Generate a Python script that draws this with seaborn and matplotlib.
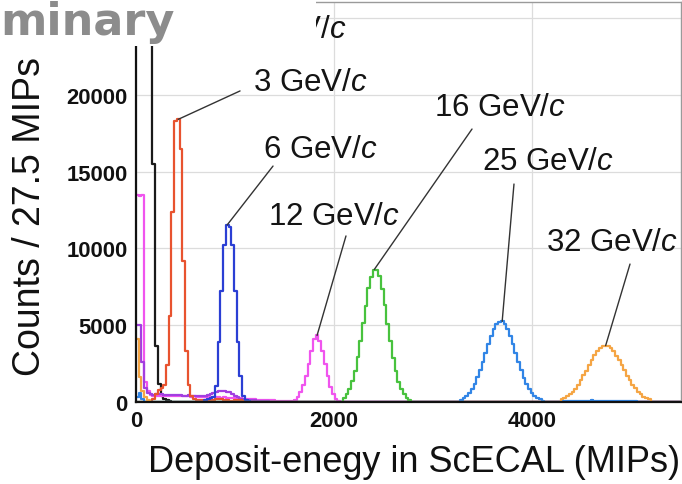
import numpy as np
import pandas as pd
import matplotlib
matplotlib.use('Agg')
import matplotlib.pyplot as plt
from matplotlib.patches import Rectangle
from matplotlib.ticker import MultipleLocator, FuncFormatter
import seaborn as sns

# binning of the histograms: 27.5 MIPs per bin, 0 - 5500 MIPs
bin_width = 27.5
n_bins = 200

# counts per bin, as (first bin, values)
e1_start = 0
e1_counts = [30000, 32000, 36000, 40000, 42000, 34000, 15500, 3650, 1170, 400, 200, 100, 60]

e3_start = 6
e3_counts = [200, 500, 800, 900, 1100, 2400, 5600, 12400, 18300, 18400, 16500, 9200, 3300, 1100,
             400, 200, 150, 120, 140, 110, 100, 120, 150, 180, 200, 170, 130, 100, 80, 90, 120,
             150, 110, 70, 50]

e6_start = 25
e6_counts = [150, 200, 250, 300, 1050, 3930, 7200, 10200, 11530, 11400, 10200, 7200, 3930, 1700,
             400, 150, 80]

e12_low_start = 0
e12_low = [13500, 13400, 13500, 1300, 700, 450, 420, 400, 410, 390,
           400, 380, 400, 420, 390, 380, 400, 370, 360, 380,
           350, 360, 340, 350, 330, 340, 320, 330, 310, 300,
           320, 290, 300, 280, 270, 260, 250, 240, 230, 220,
           200, 190, 180, 170, 160, 150, 140, 130, 120, 110,
           100, 90, 80, 70, 60, 60, 50, 50]
e12_start = 58
e12_counts = [100, 300, 650, 1100, 1700, 2500, 3300, 4100, 4330, 4000, 3300, 2500, 1700, 1000,
              500, 200, 80]

noise_start = 0
noise_counts = [5000, 5000, 2600, 900, 600, 500, 480, 520, 550, 500, 480, 470, 450, 460, 440, 430,
                450, 420, 410, 430, 400, 410, 420, 400, 390, 420, 450, 500, 580, 650, 700, 720,
                700, 680, 620, 520, 400, 300, 220, 180, 150, 130, 110, 100, 90, 80, 60, 50, 40, 30]

e16_start = 76
e16_counts = [280, 510, 830, 1350, 2000, 2920, 3950, 5150, 6280, 7400, 8150, 8620, 8580, 8200,
              7330, 6320, 5090, 3980, 2880, 2040, 1320, 850, 490, 290, 140]

e25_low_start = 0
e25_low = [300, 600, 200]
e25_start = 119
e25_counts = [160, 265, 395, 590, 860, 1180, 1600, 2070, 2620, 3180, 3770, 4290, 4750, 5060, 5230,
              5250, 5070, 4740, 4310, 3760, 3200, 2610, 2090, 1590, 1190, 845, 595, 405, 255, 170, 90]
e25_tail_start = 157
e25_tail = [70, 80, 90, 85, 80, 95, 90, 85, 80, 90, 100, 95, 85, 80, 90, 85, 80, 75, 85, 80, 90,
            85, 80, 70, 75, 70, 60]

e32_low_start = 0
e32_low = [4100, 1600, 700, 300, 150]
e32_start = 156
e32_counts = [170, 250, 365, 490, 680, 870, 1130, 1400, 1730, 2050, 2410, 2720, 3050, 3290, 3510,
              3620, 3670, 3640, 3490, 3310, 3020, 2740, 2390, 2060, 1710, 1410, 1110, 880, 665,
              500, 355, 260, 170]

labels = ['1 GeV/$c$', '3 GeV/$c$', '6 GeV/$c$', '12 GeV/$c$', '16 GeV/$c$', '25 GeV/$c$', '32 GeV/$c$']


def full_hist(*segments):
    h = np.zeros(n_bins)
    for start, vals in segments:
        h[start:start + len(vals)] = vals
    return h


edges = np.arange(n_bins + 1) * bin_width
centers = edges[:-1] + bin_width / 2

h1 = full_hist((e1_start, e1_counts))
h3 = full_hist((e3_start, e3_counts))
h6 = full_hist((e6_start, e6_counts))
h12 = full_hist((e12_low_start, e12_low), (e12_start, e12_counts))
hnoise = full_hist((noise_start, noise_counts))
h16 = full_hist((e16_start, e16_counts))
h25 = full_hist((e25_low_start, e25_low), (e25_start, e25_counts), (e25_tail_start, e25_tail))
h32 = full_hist((e32_low_start, e32_low), (e32_start, e32_counts))

sns.set_style('white')
plt.rcParams['font.family'] = ['Liberation Sans', 'DejaVu Sans']
plt.rcParams['mathtext.fontset'] = 'custom'
plt.rcParams['mathtext.rm'] = 'Liberation Sans'
plt.rcParams['mathtext.it'] = 'Liberation Sans:italic'

fig = plt.figure(figsize=(6.82, 4.85), dpi=100)
ax = fig.add_axes([136 / 682, 82 / 485, 544.5 / 682, 400 / 485])

# drawing order matters: the last one sits on top
hists = [
    (h1, '#1a1a1a'),
    (h12, '#f054ee'),
    (hnoise, '#a23ee0'),
    (h3, '#e8532f'),
    (h6, '#2b3fd4'),
    (h16, '#48c23e'),
    (h25, '#3185e6'),
    (h32, '#f5a544'),
]
for h, col in hists:
    df = pd.DataFrame({'mips': centers, 'counts': h})
    sns.histplot(data=df, x='mips', weights='counts', binwidth=bin_width,
                 binrange=(0, n_bins * bin_width), element='step', fill=False,
                 color=col, linewidth=1.6, ax=ax)

ymax = 26040
ax.set_xlim(0, 5500)
ax.set_ylim(0, ymax)

# leader lines: from near the label to the top of each peak
peak_segments = [(e1_start, e1_counts), (e3_start, e3_counts), (e6_start, e6_counts),
                 (e12_start, e12_counts), (e16_start, e16_counts), (e25_start, e25_counts),
                 (e32_start, e32_counts)]
label_pos = [(1545, 24280), (1758, 20830), (1864, 16470), (2000, 12110),
             (3677, 19200), (4157, 15690), (4808, 10420)]
line_start = [(1150, 24280), (1051, 20250), (1384, 15360), (2121, 10810),
              (3394, 17770), (3818, 14190), (4990, 8980)]

for lab, (start, vals), pos, ls in zip(labels, peak_segments, label_pos, line_start):
    k = int(np.argmax(vals))
    peak_x = centers[start + k]
    peak_y = min(vals[k], ymax - 100)
    ax.annotate('', xy=(peak_x, peak_y), xytext=ls,
                arrowprops=dict(arrowstyle='-', color='#333333', lw=1.0,
                                shrinkA=0, shrinkB=0))
    ax.text(pos[0], pos[1], lab, ha='center', va='center', fontsize=22.5, color='#141414')

ax.xaxis.set_major_locator(MultipleLocator(2000))
ax.xaxis.set_minor_locator(MultipleLocator(500))
ax.yaxis.set_major_locator(MultipleLocator(5000))
ax.yaxis.set_minor_locator(MultipleLocator(1000))
# the 25000 label sits under the white patch in the original
ax.yaxis.set_major_formatter(FuncFormatter(lambda v, p: '' if v > 22000 else f'{v:.0f}'))
ax.tick_params(which='both', direction='in', colors='#111111', width=1.2)
ax.tick_params(which='major', length=9, labelsize=15.8)
ax.tick_params(which='minor', length=5)
ax.tick_params(axis='y', pad=6)
ax.tick_params(axis='x', pad=5.5)
plt.setp(ax.get_xticklabels() + ax.get_yticklabels(), fontweight='bold')

ax.grid(True, which='major', color='#dcdcdc', linewidth=0.9)
ax.set_axisbelow(True)

for side in ['left', 'bottom']:
    ax.spines[side].set_color('#111111')
    ax.spines[side].set_linewidth(1.6)
for side in ['top', 'right']:
    ax.spines[side].set_color('#9a9a9a')
    ax.spines[side].set_linewidth(1.0)

ax.set_xlabel('Deposit-enegy in ScECAL (MIPs)', fontsize=26, color='#111111')
ax.xaxis.set_label_coords(0.511, -0.15)
ax.xaxis.label.set_va('center')
ax.set_ylabel('Counts / 27.5 MIPs', fontsize=27, color='#111111')
ax.yaxis.set_label_coords(-0.195, 0.465)
ax.yaxis.label.set_va('center')

# white patch with the (cropped) "Preliminary" stamp over the top-left corner
fig.add_artist(Rectangle((0, 1 - 47 / 485), 316 / 682, 47 / 485, transform=fig.transFigure,
                         facecolor='white', edgecolor='none', zorder=10))
fig.text(0.0, 1 - 35 / 485, 'minary', ha='left', va='baseline', fontsize=32,
         fontweight='bold', color='#8c8c8c', family='DejaVu Sans', zorder=11)

fig.savefig('out.png', dpi=100)
